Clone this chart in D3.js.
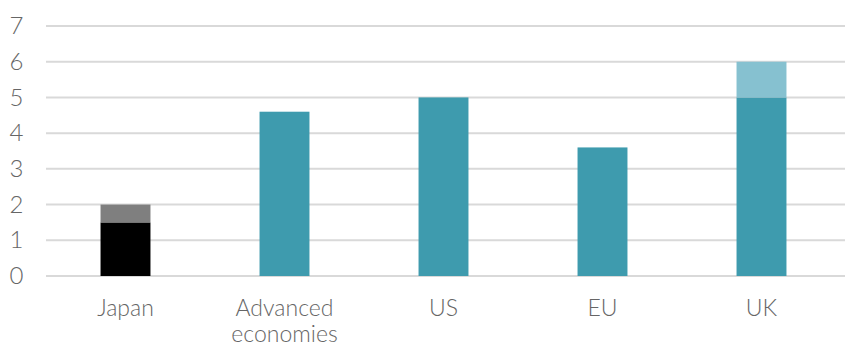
<!DOCTYPE html>
<html>
<head>
<meta charset="utf-8">
<script src="https://cdn.jsdelivr.net/npm/d3@7"></script>
<style>
  html, body { margin: 0; padding: 0; background: #fff; }
  svg { display: block; font-family: Lato, "Open Sans", sans-serif; font-weight: 300; }
</style>
</head>
<body>
<svg id="chart" width="845" height="347"></svg>
<script>
// Categories and stacked series values
const categories = ["Japan", "Advanced economies", "US", "EU", "UK"];
const baseValues = [1.5, 4.6, 5.0, 3.6, 5.0];
const topValues  = [0.5, 0, 0, 0, 1.0];
const baseColors = ["#000000", "#3E9BAE", "#3E9BAE", "#3E9BAE", "#3E9BAE"];
const topColors  = ["#7F7F7F", "#86C1D0", "#86C1D0", "#86C1D0", "#86C1D0"];
const yTicks = [0, 1, 2, 3, 4, 5, 6, 7];

const svg = d3.select("#chart");
const margin = { left: 46, right: 4, top: 26, bottom: 71 };
const width = 845, height = 347;
const textColor = "#666666";

const x = d3.scaleBand()
  .domain(categories)
  .range([margin.left, width - margin.right])
  .paddingInner(0.686)
  .paddingOuter(0.343);

const y = d3.scaleLinear()
  .domain([0, 7])
  .range([height - margin.bottom, margin.top]);

// Gridlines
svg.append("g")
  .selectAll("line")
  .data(yTicks)
  .join("line")
  .attr("x1", margin.left)
  .attr("x2", width)
  .attr("y1", d => y(d))
  .attr("y2", d => y(d))
  .attr("stroke", "#D9D9D9")
  .attr("stroke-width", 2);

// Y tick labels
const yAxis = svg.append("g")
  .attr("transform", "translate(16.5,0)")
  .call(d3.axisLeft(y).tickValues(yTicks).tickFormat(d3.format("d")).tickSize(0).tickPadding(0));
yAxis.select(".domain").remove();
yAxis.selectAll("text")
  .attr("font-size", 24)
  .attr("font-family", "Lato, sans-serif")
  .attr("font-weight", 300)
  .attr("fill", textColor)
  .attr("text-anchor", "middle");

// Base bars
svg.append("g")
  .selectAll("rect")
  .data(categories)
  .join("rect")
  .attr("x", d => x(d))
  .attr("width", x.bandwidth())
  .attr("y", (d, i) => y(baseValues[i]))
  .attr("height", (d, i) => y(0) - y(baseValues[i]))
  .attr("fill", (d, i) => baseColors[i]);

// Stacked top segments
svg.append("g")
  .selectAll("rect")
  .data(categories)
  .join("rect")
  .attr("x", d => x(d))
  .attr("width", x.bandwidth())
  .attr("y", (d, i) => y(baseValues[i] + topValues[i]))
  .attr("height", (d, i) => y(baseValues[i]) - y(baseValues[i] + topValues[i]))
  .attr("fill", (d, i) => topColors[i]);

// Category labels (wrapped)
const labelLines = {
  "Advanced economies": ["Advanced", "economies"]
};
const xLab = svg.append("g");
categories.forEach(c => {
  const lines = labelLines[c] || [c];
  const t = xLab.append("text")
    .attr("x", x(c) + x.bandwidth() / 2)
    .attr("y", 316)
    .attr("text-anchor", "middle")
    .attr("font-size", 23)
    .attr("fill", textColor);
  lines.forEach((ln, i) => {
    t.append("tspan")
      .attr("x", x(c) + x.bandwidth() / 2)
      .attr("dy", i === 0 ? 0 : 26)
      .text(ln);
  });
});
</script>
</body>
</html>
